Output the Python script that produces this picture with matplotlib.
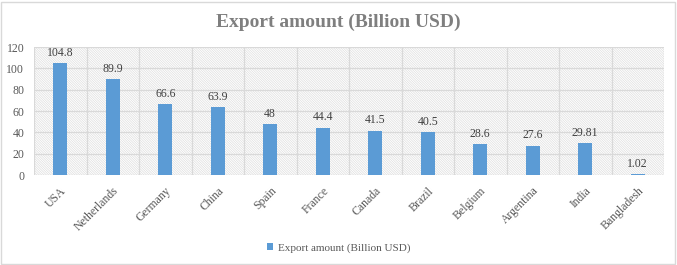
import matplotlib.pyplot as plt
import numpy as np
from matplotlib.patches import Rectangle

countries = ["USA", "Netherlands", "Germany", "China", "Spain", "France",
             "Canada", "Brazil", "Belgium", "Argentina", "India", "Bangladesh"]
export_amount = [104.8, 89.9, 66.6, 63.9, 48, 44.4, 41.5, 40.5, 28.6, 27.6, 29.81, 1.02]
value_labels = ["104.8", "89.9", "66.6", "63.9", "48", "44.4", "41.5", "40.5",
                "28.6", "27.6", "29.81", "1.02"]

plt.rcParams['font.family'] = ['Liberation Serif', 'DejaVu Serif']
plt.rcParams['hatch.linewidth'] = 0.5
text_gray = "#595959"
grid_gray = "#d9d9d9"

fig = plt.figure(figsize=(6.77, 2.65), dpi=100)
fig.patches.append(Rectangle((0.002, 0.004), 0.995, 0.99, transform=fig.transFigure,
                             fill=False, edgecolor="#d9d9d9", linewidth=1.0))
ax = fig.add_axes([34 / 677, 1 - 175 / 265, 630 / 677, 128 / 265])

x = np.arange(len(countries))
ax.set_xlim(-0.5, len(countries) - 0.5)
ax.set_ylim(0, 120)

# hatched plot area background
ax.patch.set_facecolor("white")
ax.add_patch(Rectangle((0, 0), 1, 1, transform=ax.transAxes, facecolor="white",
                       edgecolor="#dedede", hatch="\\" * 14, linewidth=0, zorder=0))

for yv in range(0, 121, 20):
    ax.axhline(yv, color=grid_gray, linewidth=0.9, zorder=1)
for xv in np.arange(-0.5, len(countries), 1):
    ax.axvline(xv, color=grid_gray, linewidth=0.9, zorder=1)

bars = ax.bar(x, export_amount, width=0.27, color="#5b9bd5", zorder=3,
              label="Export amount (Billion USD)")
for xi, v, lab in zip(x, export_amount, value_labels):
    ax.text(xi, v + 4, lab, ha="center", va="bottom", fontsize=8.5, color="#404040")

for s in ax.spines.values():
    s.set_visible(False)
ax.set_yticks(range(0, 121, 20))
ax.set_xticks(x)
ax.set_xticklabels(countries, rotation=45, ha="right", rotation_mode="anchor")
ax.tick_params(axis="both", length=0, labelsize=8.5, labelcolor=text_gray)
ax.tick_params(axis="x", pad=7)
ax.tick_params(axis="y", pad=7)

fig.text(0.5, 1 - 22 / 265, "Export amount (Billion USD)", ha="center", va="center",
         fontsize=14, fontweight="bold", color="#7f7f7f")
fig.legend(handles=[bars], loc="center", bbox_to_anchor=(0.5, 1 - 248 / 265),
           frameon=False, fontsize=8, labelcolor=text_gray, handlelength=0.6,
           handleheight=0.6, handletextpad=0.4)

plt.savefig("out.png", dpi=100)
